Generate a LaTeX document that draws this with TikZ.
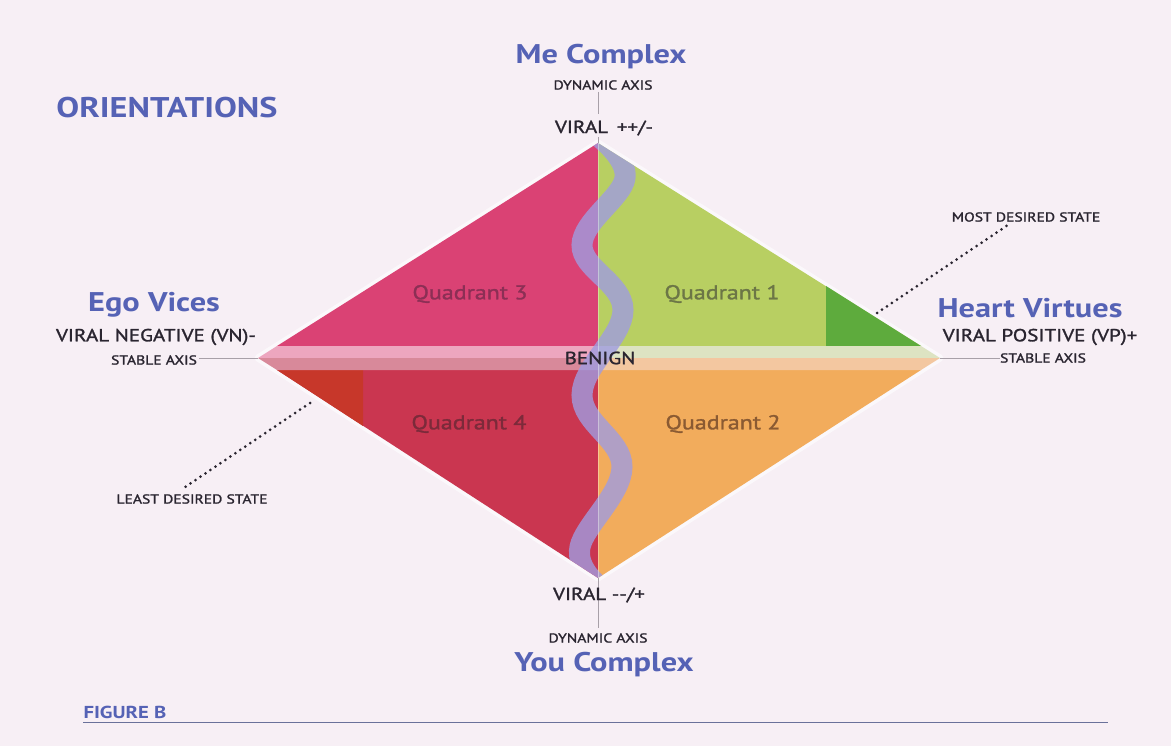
\documentclass[tikz,border=0pt]{standalone}
\usepackage{fontspec}
\setmainfont{PT Sans}[FakeStretch=1.2]
\newfontfamily\medfont{PT Sans}[FakeStretch=1.2, FakeBold=1.5]
\usetikzlibrary{calc}
\definecolor{bg}{HTML}{F7EFF5}
\definecolor{titleblue}{HTML}{5562B5}
\definecolor{ink}{HTML}{2A2530}
\definecolor{qthree}{HTML}{DA4274}
\definecolor{qone}{HTML}{B8CF62}
\definecolor{qgreen}{HTML}{5EAB3D}
\definecolor{qtwo}{HTML}{F2AC5C}
\definecolor{qfour}{HTML}{CA3650}
\definecolor{qred}{HTML}{C7372A}
\definecolor{lthree}{HTML}{8C2F55}
\definecolor{lone}{HTML}{6C7646}
\definecolor{lfour}{HTML}{7C2A3A}
\definecolor{ltwo}{HTML}{8A5A32}
\definecolor{bandUL}{HTML}{EDA6BF}
\definecolor{bandUR}{HTML}{DDE3C2}
\definecolor{bandLL}{HTML}{D8899A}
\definecolor{bandLR}{HTML}{F3C7A0}
\definecolor{wave}{HTML}{A09CE0}
\definecolor{axisgray}{HTML}{A8A0A8}
\tikzset{
  title/.style={inner sep=0pt, text=titleblue, font=\bfseries\fontsize{27}{30}\selectfont},
  lab/.style={inner sep=0pt, text=ink, font=\medfont\fontsize{17.5}{19}\selectfont},
  tiny/.style={inner sep=0pt, text=ink, font=\medfont\fontsize{13}{15}\selectfont},
  quad/.style={inner sep=0pt, font=\medfont\fontsize{20}{22}\selectfont},
  leader/.style={draw=ink, line width=3pt, line cap=round, dash pattern=on 0pt off 6pt},
  axis/.style={draw=axisgray, line width=0.6pt},
}
\begin{document}
\begin{tikzpicture}[x=1pt,y=-1pt]
\fill[bg] (0,0) rectangle (1171,746);
\useasboundingbox (0,0) rectangle (1171,746);

% key points
\coordinate (T) at (598,143);
\coordinate (L) at (258,358);
\coordinate (R) at (940,358);
\coordinate (B) at (598,578);
\coordinate (UL) at (277,346);
\coordinate (UR) at (921,346);
\coordinate (LL) at (277,370);
\coordinate (LR) at (921,370);
\coordinate (MT) at (598,346);
\coordinate (MM) at (598,358);
\coordinate (MB) at (598,370);

% halo
\draw[white, line width=7pt, opacity=0.6, line join=round] (T)--(R)--(B)--(L)--cycle;

% quadrants
\fill[qthree] (T) -- (MT) -- (UL) -- cycle;
\fill[qone] (T) -- (UR) -- (MT) -- cycle;
\fill[qgreen] (826,286) -- (UR) -- (826,346) -- cycle;
\fill[qfour] (LL) -- (MB) -- (B) -- cycle;
\fill[qred] (LL) -- (363,370) -- (363,426) -- cycle;
\fill[qtwo] (MB) -- (LR) -- (B) -- cycle;
% bands
\fill[bandUL] (UL) -- (MT) -- (MM) -- (L) -- cycle;
\fill[bandUR] (MT) -- (UR) -- (R) -- (MM) -- cycle;
\fill[bandLL] (L) -- (MM) -- (MB) -- (LL) -- cycle;
\fill[bandLR] (MM) -- (R) -- (LR) -- (MB) -- cycle;

% wave
\begin{scope}
\clip (T)--(R)--(B)--(L)--cycle;
\draw[wave, line width=21pt, opacity=0.8]
  plot[smooth, tension=0.65] coordinates {(598,136) (625,178) (582,245) (623,310) (582,395) (622,467) (580,547) (598,585)};
\end{scope}
\draw[white, opacity=0.35, line width=0.6pt] (T) -- (B);

% axes
\draw[axis] (598,92) -- (598,114);
\draw[axis] (598,137) -- (T);
\draw[axis] (B) -- (598,628);
\draw[axis] (199,358) -- (L);
\draw[axis] (R) -- (1000,358);

% titles
\node[title, font=\bfseries\fontsize{28.5}{30}\selectfont] (orient) at (167,108) {ORIENTATIONS};
\node[title] (me) at (601,57) {Me Complex};
\node[tiny] (dyn1) at (603,85) {DYNAMIC AXIS};
\node[lab] (vtop) at (604,128) {VIRAL\enspace ++/-};
\node[title] (ego) at (154,305) {Ego Vices};
\node[lab] (vn) at (156,337) {VIRAL NEGATIVE (VN)-};
\node[tiny] (sa1) at (154,360) {STABLE AXIS};
\node[title] (heart) at (1030,308) {Heart Virtues};
\node[lab] (vp) at (1040,337) {VIRAL POSITIVE (VP)+};
\node[tiny] (sa2) at (1043,358) {STABLE AXIS};
\node[tiny] (mds) at (1026,217) {MOST DESIRED STATE};
\node[tiny] (lds) at (192,499) {LEAST DESIRED STATE};
\node[lab] (benign) at (600,358) {BENIGN};
\node[quad, text=lthree] (q3) at (470,294) {Quadrant 3};
\node[quad, text=lone] (q1) at (722,294) {Quadrant 1};
\node[quad, text=lfour] (q4) at (469,424) {Quadrant 4};
\node[quad, text=ltwo] (q2) at (723,424) {Quadrant 2};
\node[lab] (vbot) at (599,595) {VIRAL -{}-/+};
\node[tiny] (dyn2) at (598,638) {DYNAMIC AXIS};
\node[title] (you) at (604,665) {You Complex};
\node[inner sep=0pt, text=titleblue, font=\bfseries\fontsize{17.3}{18}\selectfont] (fig) at (125,712) {FIGURE B};
\coordinate (ruleL) at (83,722);
\coordinate (ruleR) at (1108,722);
\draw[draw=titleblue!50!gray, line width=0.6pt] (ruleL) -- (ruleR);

% leaders
\coordinate (mdsP) at (877,313);
\coordinate (ldsP) at (310,403);
\draw[leader] (mdsP) -- ([xshift=-18pt,yshift=-3pt]mds.south);
\draw[leader] (ldsP) -- ([xshift=-10pt,yshift=5pt]lds.north);
\end{tikzpicture}
\end{document}
